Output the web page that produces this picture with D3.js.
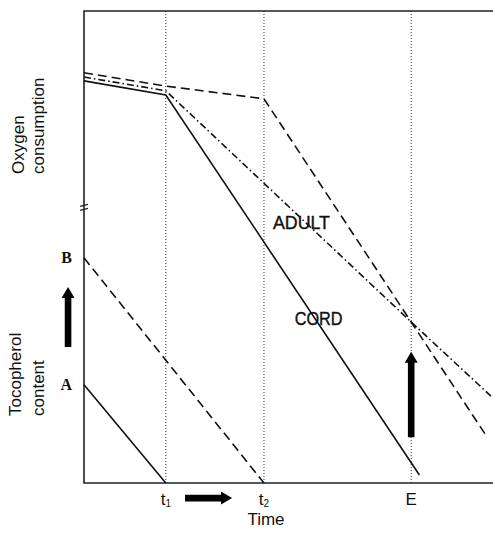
<!DOCTYPE html>
<meta charset="utf-8">
<style>
  body { margin: 0; background: #fff; }
  text { font-family: "Liberation Sans", Arial, sans-serif; fill: #111; }
</style>
<script src="https://cdn.jsdelivr.net/npm/d3@7"></script>
<div id="chart"></div>
<script>
// time marks (arbitrary units)
var ticks = [2, 4.4, 8];
var tickNames = ["t1", "t2", "E"];

// oxygen consumption curves [time, level]
var adultDash = [[0, 86.9], [2, 84.1], [4.4, 81.4], [9.85, 9.8]];
var adultDashDot = [[0, 86.0], [2, 83.1], [8, 34.1], [10, 18.0]];
var cord = [[0, 85.2], [2, 82.2], [8.2, 1.7]];

// tocopherol content lines
var tocoB = [[0, 47.7], [4.4, 0]];
var tocoA = [[0, 20.8], [2, 0]];

// arrows [x1, y1, x2, y2] in data units
var arrows = [[-0.39, 28.8, -0.39, 41.5], [8, 9.7, 8, 27.8], [2.47, -3.2, 3.62, -3.2]];

var margin = {top: 11, right: 0, bottom: 52, left: 84},
    width = 493 - margin.left - margin.right,
    height = 535 - margin.top - margin.bottom;

var svg = d3.select("#chart")
  .append("svg")
    .attr("width", 493)
    .attr("height", 535)
  .append("g")
    .attr("transform", "translate(" + margin.left + "," + margin.top + ")");

var x = d3.scaleLinear().domain([0, 10]).range([0, width]);
var y = d3.scaleLinear().domain([0, 100]).range([height, 0]);

var line = d3.line()
  .x(function(d) { return x(d[0]); })
  .y(function(d) { return y(d[1]); });

// dotted verticals at t1, t2, E
svg.selectAll(".guide")
  .data(ticks)
  .enter()
  .append("line")
    .attr("x1", function(d) { return x(d); })
    .attr("x2", function(d) { return x(d); })
    .attr("y1", 0)
    .attr("y2", height)
    .attr("stroke", "#333")
    .attr("stroke-width", 1)
    .attr("stroke-dasharray", "1,2");

// frame: top, left, bottom
svg.append("path")
  .attr("d", "M" + width + ",0H0V" + height + "H" + width)
  .attr("fill", "none")
  .attr("stroke", "#222")
  .attr("stroke-width", 1.6);

// axis break mark
var yb = y(58.4);
svg.append("path")
  .attr("d", "M-4," + (yb - 1) + "L4," + (yb - 3) + "M-4," + (yb + 3) + "L4," + (yb + 1))
  .attr("stroke", "#222")
  .attr("stroke-width", 1.2);

var series = [
  {d: adultDash, dash: "9,5"},
  {d: adultDashDot, dash: "7,3,1.5,3"},
  {d: cord, dash: null},
  {d: tocoB, dash: "9,5"},
  {d: tocoA, dash: null}
];

svg.selectAll(".curve")
  .data(series)
  .enter()
  .append("path")
    .attr("d", function(d) { return line(d.d); })
    .attr("fill", "none")
    .attr("stroke", "#111")
    .attr("stroke-width", 1.6)
    .attr("stroke-dasharray", function(d) { return d.dash; });

// block arrows
function arrowPath(a) {
  var x1 = x(a[0]), y1 = y(a[1]), x2 = x(a[2]), y2 = y(a[3]);
  var len = Math.hypot(x2 - x1, y2 - y1), ang = Math.atan2(y2 - y1, x2 - x1) * 180 / Math.PI;
  var hl = 11, sw = 3.3, hw = 6.5;
  return {p: "M0," + (-sw) + "L" + (len - hl) + "," + (-sw) + "L" + (len - hl) + "," + (-hw) +
             "L" + len + ",0L" + (len - hl) + "," + hw + "L" + (len - hl) + "," + sw + "L0," + sw + "Z",
          t: "translate(" + x1 + "," + y1 + ") rotate(" + ang + ")"};
}
svg.selectAll(".arrow")
  .data(arrows)
  .enter()
  .append("path")
    .attr("d", function(d) { return arrowPath(d).p; })
    .attr("transform", function(d) { return arrowPath(d).t; })
    .attr("fill", "#000");

// tick labels
var tl = svg.selectAll(".tick")
  .data(ticks)
  .enter()
  .append("text")
    .attr("x", function(d) { return x(d); })
    .attr("y", height + 22)
    .attr("text-anchor", "middle")
    .attr("font-size", "17px");
tl.append("tspan").text(function(d, i) { return tickNames[i].charAt(0); });
tl.append("tspan")
  .attr("font-size", "10px")
  .attr("dy", 2)
  .text(function(d, i) { return tickNames[i].slice(1); });

svg.append("text")
  .attr("x", x(4.45))
  .attr("y", height + 42)
  .attr("text-anchor", "middle")
  .attr("font-size", "17px")
  .text("Time");

// curve labels
svg.append("text")
  .attr("x", x(4.62)).attr("y", y(53.8))
  .attr("font-size", "19px")
  .attr("stroke", "#111").attr("stroke-width", 0.4)
  .attr("textLength", 57).attr("lengthAdjust", "spacingAndGlyphs")
  .text("ADULT");
svg.append("text")
  .attr("x", x(5.15)).attr("y", y(33.5))
  .attr("font-size", "19px")
  .attr("stroke", "#111").attr("stroke-width", 0.4)
  .attr("textLength", 48).attr("lengthAdjust", "spacingAndGlyphs")
  .text("CORD");

// A and B levels
svg.selectAll(".lvl")
  .data([["B", 47.7], ["A", 20.8]])
  .enter()
  .append("text")
    .attr("x", -12)
    .attr("y", function(d) { return y(d[1]) + 5; })
    .attr("text-anchor", "end")
    .style("font-family", "'Liberation Serif', 'DejaVu Serif', serif")
    .style("font-weight", "bold")
    .attr("font-size", "16px")
    .text(function(d) { return d[0]; });

// y labels
var ylab = [["Oxygen", 24, 174 - margin.top], ["consumption", 44, 174 - margin.top],
            ["Tocopherol", 21, 416 - margin.top], ["content", 44, 416 - margin.top]];
svg.selectAll(".ylab")
  .data(ylab)
  .enter()
  .append("text")
    .attr("transform", function(d) { return "translate(" + (d[1] - margin.left) + "," + d[2] + ") rotate(-90)"; })
    .attr("font-size", "17px")
    .text(function(d) { return d[0]; });
</script>
